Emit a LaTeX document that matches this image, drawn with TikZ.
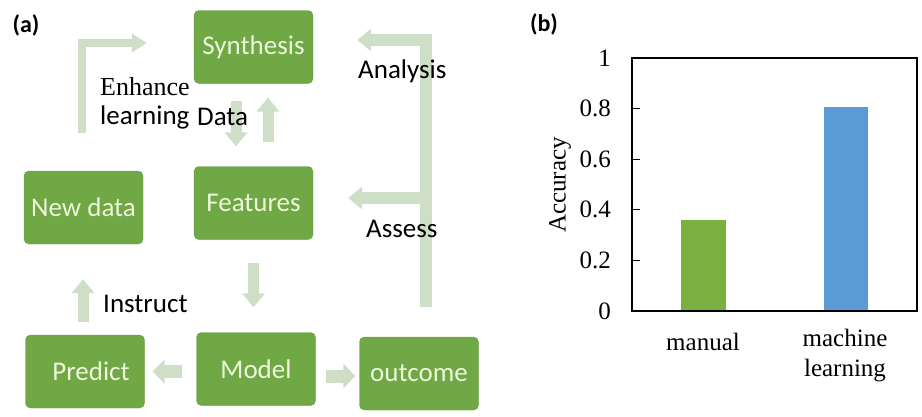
\documentclass[tikz,border=0pt]{standalone}
\usepackage{fontspec}
\setmainfont{Liberation Serif}
\newfontfamily\timesf{Liberation Serif}
\newfontfamily\calibri{Carlito}
\usetikzlibrary{arrows.meta,positioning}

\definecolor{boxgreen}{HTML}{6FA845}
\definecolor{boxedge}{HTML}{639B3C}
\definecolor{boxtext}{HTML}{EEF6DC}
\definecolor{flowc}{HTML}{CFDEC7}
\definecolor{bargreen}{HTML}{7AB040}
\definecolor{barblue}{HTML}{5B9BD5}

\begin{document}
\begin{tikzpicture}[x=1pt,y=-1pt,font=\timesf\fontsize{25}{30}\selectfont]
  \tikzstyle{stage}=[rectangle,rounded corners=5pt,draw=boxedge,fill=boxgreen,
                     text=boxtext,font=\calibri\fontsize{27}{32}\selectfont,
                     minimum width=119pt,minimum height=73pt]
  \tikzstyle{flow}=[flowc,line width=11pt,-{Triangle[length=14pt,width=22pt]}]
  \tikzstyle{lbl}=[inner sep=0pt,anchor=base west,font=\calibri\fontsize{27}{32}\selectfont]
  \tikzstyle{num}=[inner sep=0pt,anchor=east,font=\timesf\fontsize{25}{30}\selectfont]

  \useasboundingbox (0,0) rectangle (922,416);

  % panel (a): workflow
  \node[inner sep=0pt,font=\calibri\bfseries\fontsize{24}{28}\selectfont] (pa) at (26,25) {(a)};

  \node[stage] (syn)  at (253.5,47)  {Synthesis};
  \node[stage] (feat) at (253.5,203) {Features};
  \node[stage] (new)  at (83.5,207.5) {New data};
  \node[stage] (pred) at (85,371.5)  {\hspace*{12pt}Predict};
  \node[stage] (model) at (256,369)  {Model};
  \node[stage] (out)  at (419,373.5) {outcome};
  \coordinate (bus) at ([xshift=7pt]out.north);
  \coordinate (mright) at ([yshift=-7pt]model.east);
  \coordinate (fright) at ([yshift=5pt]feat.east);

  \draw[flow,line width=8pt,-{Triangle[length=15pt,width=18pt]},shorten <=38pt,shorten >=47pt]
    ([xshift=-2pt]new.north) |- ([yshift=4pt]syn.west);
  \draw[flow,shorten <=17pt,shorten >=20pt] ([xshift=-17.5pt]syn.south) -- ([xshift=-17.5pt]feat.north);
  \draw[flow,shorten <=24pt,shorten >=14pt] ([xshift=14.5pt]feat.north) -- ([xshift=14.5pt]syn.south);
  \draw[flow,shorten <=23pt,shorten >=25pt] (feat.south) -- (feat.south |- model.north);
  \draw[flow,shorten <=13pt,shorten >=35pt] ([xshift=-2pt]pred.north) -- ([xshift=-0.5pt]new.south);
  \draw[flow,line width=13pt,-{Triangle[length=12pt,width=24pt]},shorten <=14pt,shorten >=8pt]
    (model.west |- pred.east) -- (pred.east);
  \draw[flow,line width=13pt,-{Triangle[length=12pt,width=24pt]},shorten <=10pt,shorten >=4pt]
    (mright) -- (out.west |- mright);
  \draw[flow,line width=12pt,shorten <=30pt,shorten >=44pt] (bus) |- ([yshift=7pt]syn.east);
  \draw[flow,line width=12pt,shorten >=35pt] (bus |- fright) -- (fright);

  \node[lbl,font=\timesf\fontsize{26}{30}\selectfont] (enh) at (100,95) {Enhance};
  \node[lbl] (learn) at (100,124) {learning};
  \node[lbl] (data) at (197,125) {Data};
  \node[lbl] (ana) at (358,78) {Analysis};
  \node[lbl] (ass) at (366,237) {Assess};
  \node[lbl] (ins) at (103,312) {Instruct};

  % panel (b): accuracy bars
  \node[inner sep=0pt,font=\calibri\bfseries\fontsize{24}{28}\selectfont] (pb) at (544,24) {(b)};

  \fill[bargreen] (681,311) rectangle (726,220);
  \fill[barblue] (824,311) rectangle (868,107);
  \draw[line width=1.5pt] (632,58) rectangle (917,311);
  \foreach \v/\t in {0/0,1/0.2,2/0.4,3/0.6,4/0.8,5/1} {
    \draw[line width=1.2pt] (632,311-50.6*\v) -- (640,311-50.6*\v);
    \node[num] (tick\v) at (611,311-50.6*\v) {\t};
  }
  \node[rotate=90,inner sep=0pt] (acc) at (560,185) {Accuracy};
  \node[inner sep=0pt] (man) at (703,342) {manual};
  \node[inner sep=0pt,align=center] (ml) at (845,356) {machine\\learning};
\end{tikzpicture}
\end{document}
